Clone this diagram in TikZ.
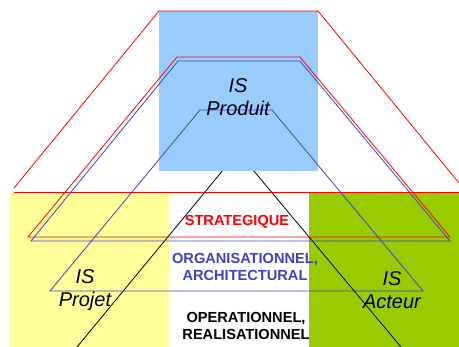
\documentclass[tikz,border=0pt]{standalone}
\usepackage{fontspec}
\setmainfont{Liberation Sans}
\definecolor{produit}{HTML}{99CCFF}
\definecolor{projet}{HTML}{FFFF99}
\definecolor{acteur}{HTML}{99CC00}
\definecolor{bleu}{HTML}{4040CC}
\tikzset{
  niveau/.style={font=\bfseries\fontsize{14.6}{17}\selectfont, align=center, inner sep=0pt},
  systeme/.style={font=\itshape\fontsize{20}{23}\selectfont, align=center, inner sep=0pt},
  trait/.style={line width=0.8pt}
}
\begin{document}
\begin{tikzpicture}[x=1pt, y=-1pt]
  \useasboundingbox (0,0) rectangle (459,347);
  \fill[projet] (10,192) rectangle (169,347);
  \fill[acteur] (309,192) rectangle (459,347);
  \draw[trait, black] (77,347) -- (238,152) -- (401,347);
  \fill[produit] (159,11) rectangle (318,171);
  \draw[trait, red] (14,188) -- (159,11) -- (318,11) -- (459,183);
  \draw[trait, red] (14,192) -- (459,192);
  \draw[trait, red] (28,237) -- (177,57) -- (300,57) -- (450,237) -- cycle;
  \draw[trait, bleu] (31,241) -- (178,61) -- (300,61) -- (450,241) -- cycle;
  \draw[trait, bleu] (50,291) -- (200,110) -- (272,110) -- (423,291) -- cycle;
  \node[systeme] (produit) at (238,97) {IS\\Produit};
  \node[systeme] (projet) at (85,290) {IS\\Projet};
  \node[systeme] (acteur) at (392,290) {IS\\Acteur};
  \node[niveau, red] (strategique) at (237,222) {STRATEGIQUE};
  \node[niveau, bleu] (organisationnel) at (245,267) {ORGANISATIONNEL,\\ARCHITECTURAL};
  \node[niveau, black] (operationnel) at (246,326) {OPERATIONNEL,\\REALISATIONNEL};
\end{tikzpicture}
\end{document}
